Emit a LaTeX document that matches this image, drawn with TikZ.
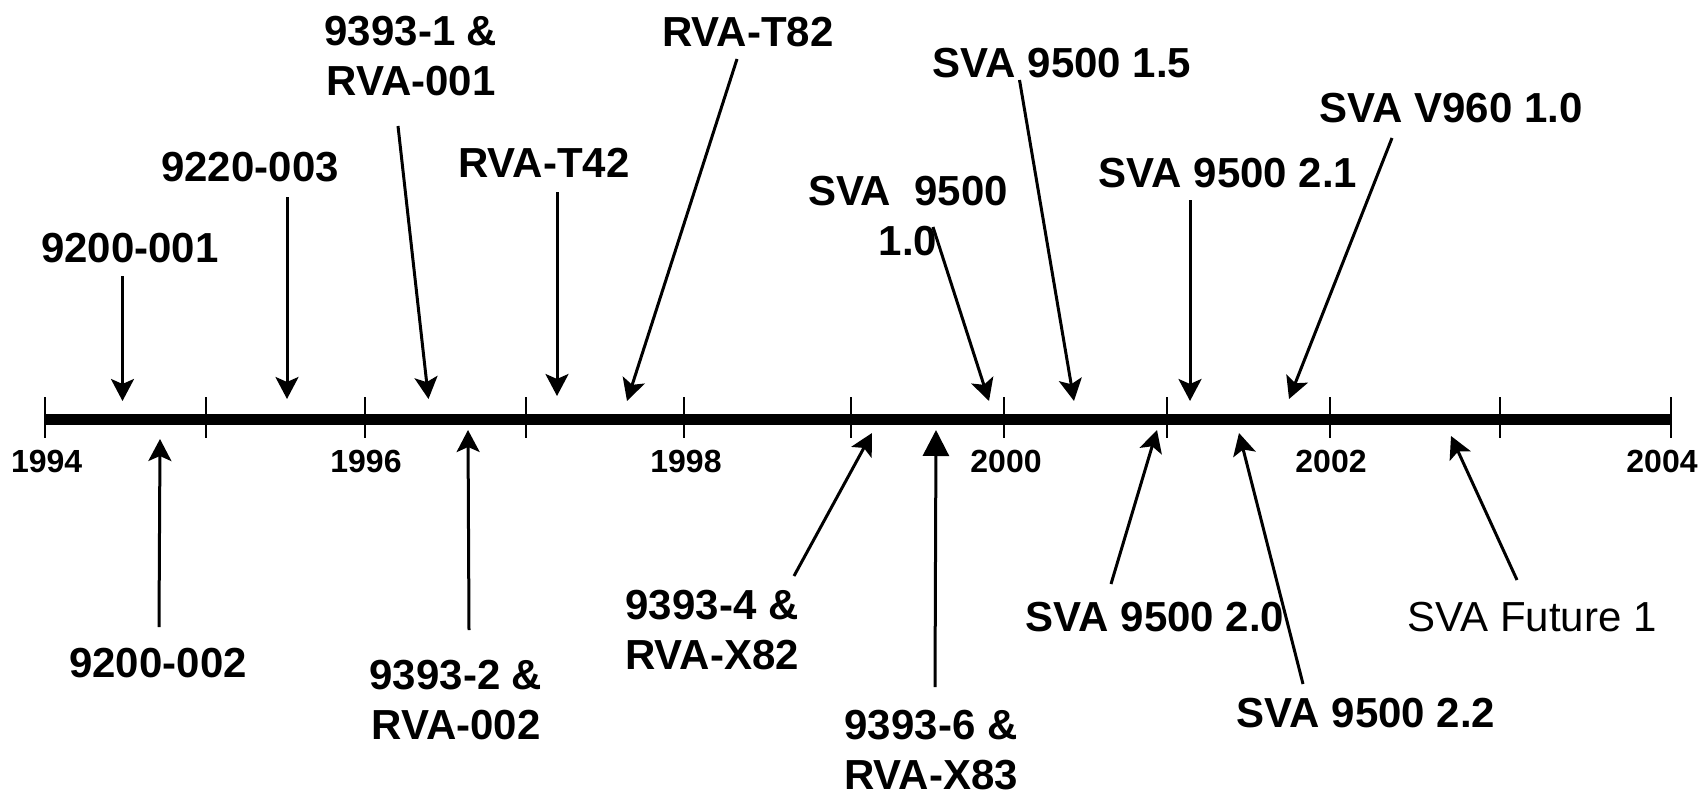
\documentclass[tikz,border=0pt]{standalone}
\usepackage{fontspec}
\setmainfont{Liberation Sans}
\usetikzlibrary{arrows.meta}
\begin{document}
\begin{tikzpicture}[x=1pt,y=-1pt,
  lbl/.style={font=\fontsize{42}{50}\selectfont\bfseries, inner sep=0pt, anchor=north, align=center},
  lblr/.style={font=\fontsize{42}{50}\selectfont, inner sep=0pt, anchor=north, align=center},
  yr/.style={font=\fontsize{32}{38}\selectfont\bfseries, inner sep=0pt, anchor=north},
  arr/.style={line width=3pt, -{Stealth[length=22pt,width=23pt,inset=5pt]}},
  arrb/.style={line width=3pt, -{Triangle[length=26pt,width=26pt]}},
  axisline/.style={line width=11pt},
  tickline/.style={line width=2.5pt}]
\useasboundingbox (0,0) rectangle (1707,797);

% axis
\coordinate (ax0) at (45,419);
\coordinate (ax1) at (1671,419);
\draw[axisline] (ax0) -- (ax1);
\foreach \t in {45,206,365,526,684,851,1004,1167,1330,1500,1671}
  \draw[tickline] (\t,397) -- (\t,438);

% years
\node[yr] (y94) at (46.6,450) {1994};
\node[yr] (y96) at (366,450) {1996};
\node[yr] (y98) at (686,450) {1998};
\node[yr] (y00) at (1006,450) {2000};
\node[yr] (y02) at (1331,450) {2002};
\node[yr] (y04) at (1662,450) {2004};

% top labels
\node[lbl] (t1) at (130,233) {9200-001};
\node[lbl] (t2) at (250,152) {9220-003};
\node[lbl] (t3) at (411,16) {9393-1 \&\\RVA-001};
\node[lbl] (t4) at (544,148) {RVA-T42};
\node[lbl] (t5) at (748,17) {RVA-T82};
\node[lbl] (t6) at (908,176) {SVA\ \ 9500\\1.0};
\node[lbl] (t7) at (1062,48) {SVA 9500 1.5};
\node[lbl] (t8) at (1228,158) {SVA 9500 2.1};
\node[lbl] (t9) at (1451,93) {SVA V960 1.0};

% bottom labels
\node[lbl] (b1) at (158,648) {9200-002};
\node[lbl] (b2) at (456,660) {9393-2 \&\\RVA-002};
\node[lbl] (b3) at (712,590) {9393-4 \&\\RVA-X82};
\node[lbl] (b4) at (931,710) {9393-6 \&\\RVA-X83};
\node[lbl] (b5) at (1155,602) {SVA 9500 2.0};
\node[lbl] (b6) at (1366,698) {SVA 9500 2.2};
\node[lblr] (b7) at (1532,602) {SVA Future 1};

% arrow end points
\coordinate (t1s) at (122.5,276); \coordinate (t1e) at (122.5,401);
\coordinate (t2s) at (287,197);   \coordinate (t2e) at (287,399);
\coordinate (t3s) at (398,126);   \coordinate (t3e) at (428.5,399);
\coordinate (t4s) at (557,192);   \coordinate (t4e) at (557,396);
\coordinate (t5s) at (737,59);    \coordinate (t5e) at (627,401);
\coordinate (t6s) at (933,227);   \coordinate (t6e) at (989,401);
\coordinate (t7s) at (1019.5,80); \coordinate (t7e) at (1074,401);
\coordinate (t8s) at (1190,200);  \coordinate (t8e) at (1190,401);
\coordinate (t9s) at (1392,138);  \coordinate (t9e) at (1289,399);

\coordinate (b1s) at (159,627);   \coordinate (b1e) at (160,439);
\coordinate (b2s) at (469,630);   \coordinate (b2e) at (468,430);
\coordinate (b3s) at (794,576);   \coordinate (b3e) at (872,433);
\coordinate (b4s) at (935,687);   \coordinate (b4e) at (936,430);
\coordinate (b5s) at (1111,584);  \coordinate (b5e) at (1157,430);
\coordinate (b6s) at (1303,684);  \coordinate (b6e) at (1239,433);
\coordinate (b7s) at (1517,580);  \coordinate (b7e) at (1451,436);

\foreach \a in {t1,t2,t3,t4,t5,t6,t7,t8,t9,b1,b2,b3,b5,b6,b7}
  \draw[arr] (\a s) -- (\a e);
\draw[arrb] (b4s) -- (b4e);
\end{tikzpicture}
\end{document}
